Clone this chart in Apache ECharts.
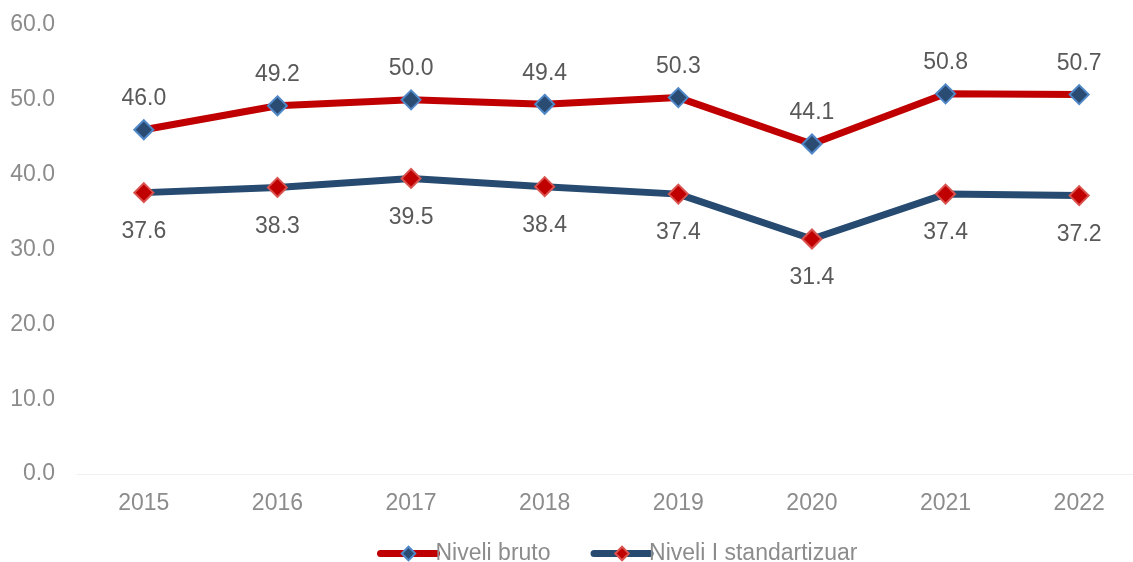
<!DOCTYPE html>
<html>
<head>
<meta charset="utf-8">
<script src="https://cdn.jsdelivr.net/npm/echarts@6/dist/echarts.min.js"></script>
<style>
  html, body { margin: 0; padding: 0; background: #fff; overflow: hidden; }
  #chart { width: 1146px; height: 562px; }
</style>
</head>
<body>
<div id="chart"></div>
<script>
const years = ['2015', '2016', '2017', '2018', '2019', '2020', '2021', '2022'];
const niveliBruto = [46.0, 49.2, 50.0, 49.4, 50.3, 44.1, 50.8, 50.7];
const niveliStandartizuar = [37.6, 38.3, 39.5, 38.4, 37.4, 31.4, 37.4, 37.2];

const font = '"Liberation Sans", Arial, sans-serif';

// The plot area runs slightly past the right edge of the visible page,
// so the container is a little wider than the viewport and clipped.
const chart = echarts.init(document.getElementById('chart'), null, { renderer: 'canvas' });
chart.setOption({
  backgroundColor: '#ffffff',
  animation: false,
  grid: { left: 77, right: 0, top: 25, bottom: 88 },
  legend: {
    top: 537,
    left: 372,
    itemWidth: 56,
    itemHeight: 17,
    itemGap: 40,
    lineStyle: { width: 7, cap: 'round' },
    textStyle: { color: '#8c8c8c', fontSize: 23, fontFamily: font, padding: [0, 0, 0, -6] },
    data: ['Niveli bruto', 'Niveli I standartizuar']
  },
  xAxis: {
    type: 'category',
    data: years,
    boundaryGap: true,
    axisLine: { lineStyle: { color: '#f0f0f0', width: 1 } },
    axisTick: { show: false },
    axisLabel: { color: '#8c8c8c', fontSize: 23, fontFamily: font, margin: 18 }
  },
  yAxis: {
    type: 'value',
    min: 0,
    max: 60,
    interval: 10,
    splitLine: { show: false },
    axisLine: { show: false },
    axisTick: { show: false },
    axisLabel: {
      color: '#8c8c8c', fontSize: 23, fontFamily: font, margin: 22,
      padding: [3, 0, 0, 0],
      formatter: v => v.toFixed(1)
    }
  },
  series: [
    {
      name: 'Niveli bruto',
      type: 'line',
      data: niveliBruto,
      symbol: 'diamond',
      symbolSize: 19,
      lineStyle: { color: '#c00000', width: 7 },
      itemStyle: { color: '#2a4b72', borderColor: '#4f87c7', borderWidth: 2 },
      label: {
        show: true, position: 'top', distance: 9,
        color: '#595959', fontSize: 23, fontFamily: font,
        formatter: p => p.value.toFixed(1)
      },
      z: 3
    },
    {
      name: 'Niveli I standartizuar',
      type: 'line',
      data: niveliStandartizuar,
      symbol: 'diamond',
      symbolSize: 19,
      lineStyle: { color: '#264a70', width: 7 },
      itemStyle: { color: '#c00000', borderColor: '#d9534f', borderWidth: 2 },
      label: {
        show: true, position: 'bottom', distance: 17,
        color: '#595959', fontSize: 23, fontFamily: font,
        formatter: p => p.value.toFixed(1)
      },
      z: 2
    }
  ]
});
</script>
</body>
</html>
